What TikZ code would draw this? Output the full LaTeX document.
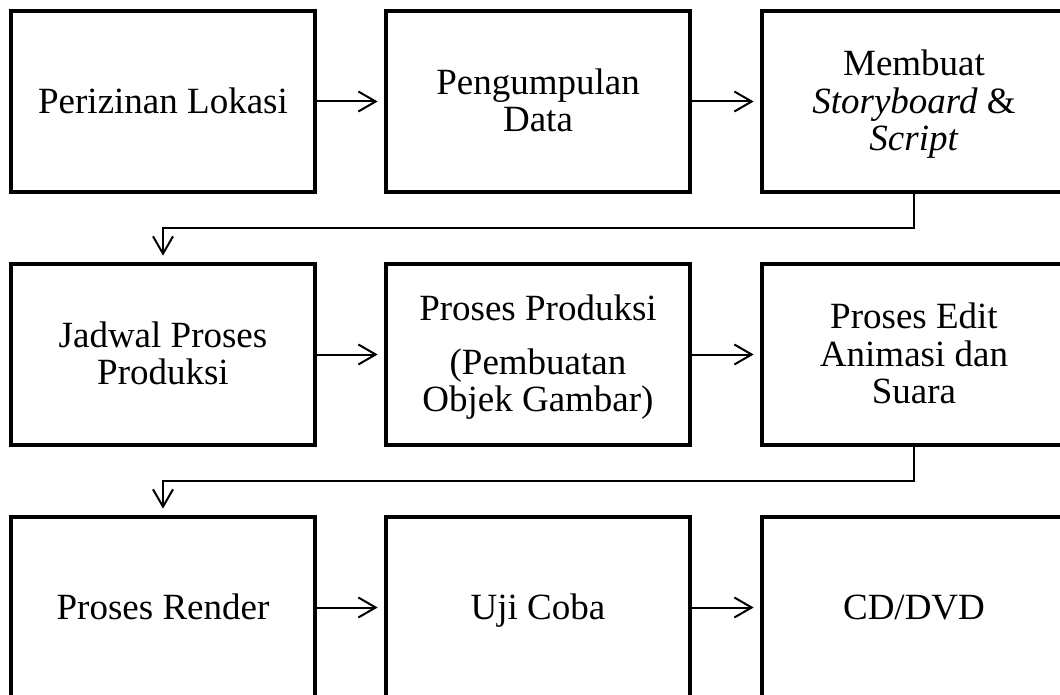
\documentclass[tikz,border=0pt]{standalone}
\usepackage{fontspec}
\setmainfont{Liberation Serif}
\usepackage{tikz}
\usetikzlibrary{arrows.meta,calc}
% penyangga tinggi baris pertama dan kedalaman baris terakhir
\newcommand{\atas}{\rule{0pt}{26pt}}
\newcommand{\bawah}{\rule[-8.4pt]{0pt}{8.4pt}}

\begin{document}
\begin{tikzpicture}[x=0.75pt, y=-0.75pt,
        TahapStyle/.style = {draw, line width=3.5pt, minimum width=228pt,
            minimum height=135.75pt, align=center, inner sep=0pt,
            font=\fontsize{27.75}{28.1}\selectfont},
        AlurStyle/.style = {line width=1.5pt,
            -{Straight Barb[length=13pt, width=15pt, line width=1.5pt]},
            shorten >=4.5pt}]
        \useasboundingbox (0,0) rectangle (1060,695);
        \clip (0,0) rectangle (1060,695);
        % baris pertama
        \node[TahapStyle] (A1) at (163,101.5) {\atas Perizinan Lokasi\bawah};
        \node[TahapStyle] (A2) at (538,101.5) {\atas Pengumpulan\\Data\bawah};
        \node[TahapStyle] (A3) at (914,101.5) {\atas Membuat\\\textit{Storyboard} \&\\\textit{Script}\bawah};
        % baris kedua
        \node[TahapStyle] (B1) at (163,354.5) {\atas Jadwal Proses\\Produksi\bawah};
        \node[TahapStyle] (B2) at (538,354.5) {\atas Proses Produksi\\[12pt](Pembuatan\\Objek Gambar)\bawah};
        \node[TahapStyle] (B3) at (914,354.5) {\atas Proses Edit\\Animasi dan\\Suara\bawah};
        % baris ketiga
        \node[TahapStyle] (C1) at (163,607.5) {\atas Proses Render\bawah};
        \node[TahapStyle] (C2) at (538,607.5) {\atas Uji Coba\bawah};
        \node[TahapStyle] (C3) at (914,607.5) {\atas CD/DVD\bawah};
        \draw[AlurStyle] (A1) -- (A2);
        \draw[AlurStyle] (A2) -- (A3);
        \draw[AlurStyle] (A3.south) |- ($(A3.south)!.5!(B1.north)$) -| (B1.north);
        \draw[AlurStyle] (B1) -- (B2);
        \draw[AlurStyle] (B2) -- (B3);
        \draw[AlurStyle] (B3.south) |- ($(B3.south)!.5!(C1.north)$) -| (C1.north);
        \draw[AlurStyle] (C1) -- (C2);
        \draw[AlurStyle] (C2) -- (C3);
    \end{tikzpicture}
\end{document}
